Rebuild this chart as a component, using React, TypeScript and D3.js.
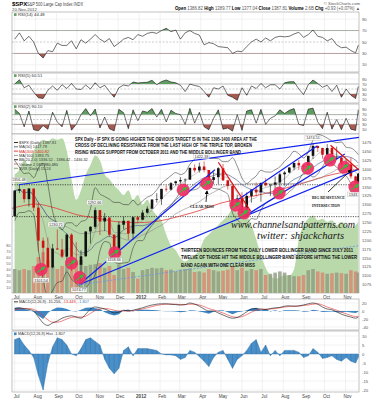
import React from "react";
import * as d3 from "d3";

// ---------- DATA ----------
const weekDates = [
  "2011-07-01","2011-07-08","2011-07-15","2011-07-22","2011-07-29","2011-08-05","2011-08-12","2011-08-19","2011-08-26","2011-09-02",
  "2011-09-09","2011-09-16","2011-09-23","2011-09-30","2011-10-07","2011-10-14","2011-10-21","2011-10-28","2011-11-04","2011-11-11",
  "2011-11-18","2011-11-25","2011-12-02","2011-12-09","2011-12-16","2011-12-23","2011-12-30","2012-01-06","2012-01-13","2012-01-20",
  "2012-01-27","2012-02-03","2012-02-10","2012-02-17","2012-02-24","2012-03-02","2012-03-09","2012-03-16","2012-03-23","2012-03-30",
  "2012-04-06","2012-04-13","2012-04-20","2012-04-27","2012-05-04","2012-05-11","2012-05-18","2012-05-25","2012-06-01","2012-06-08",
  "2012-06-15","2012-06-22","2012-06-29","2012-07-06","2012-07-13","2012-07-20","2012-07-27","2012-08-03","2012-08-10","2012-08-17",
  "2012-08-24","2012-08-31","2012-09-07","2012-09-14","2012-09-21","2012-09-28","2012-10-05","2012-10-12","2012-10-19","2012-10-26",
  "2012-11-02","2012-11-09","2012-11-16","2012-11-20"];

const closes = [1340,1344,1316,1346,1292,1199,1179,1124,1177,1174,1154,1216,1136,1131,1155,1225,1238,1285,1253,1264,
  1216,1159,1244,1255,1219,1265,1258,1278,1289,1315,1316,1345,1343,1361,1366,1370,1371,1404,1397,1408,
  1398,1370,1378,1403,1369,1353,1295,1318,1278,1325,1343,1335,1362,1355,1357,1363,1386,1391,1405,1418,
  1411,1407,1438,1466,1460,1441,1460,1429,1433,1412,1414,1380,1360,1387.81];
const highs = [1341,1356.48,1344,1347,1345,1307,1208,1208,1190,1230.71,1204,1220,1220,1195,1172,1224,1240,1292.66,1285,1277,
  1265,1216,1254,1267,1255,1267,1269,1285,1296,1315,1333,1345,1355,1364,1368,1378,1374,1405,1414,1419,
  1422.38,1398,1392,1406,1415,1370,1355,1328,1335,1335,1343,1363,1362,1375,1357,1380,1391,1395,1406,1419,
  1426,1414,1438,1474.51,1467,1461,1471,1465,1464,1434,1429,1433,1382,1389.77];
const lows = [1267,1333,1306,1295,1282,1168,1101.54,1121,1121,1174,1150,1137,1114,1131,1074.77,1154,1191,1232,1215,1226,
  1209,1158.66,1159,1231,1202,1202,1248,1258,1275,1290,1306,1300,1337,1340,1355,1360,1340,1370,1391,1391,
  1392,1357,1359,1358,1367,1343,1291,1295,1277,1266.74,1306,1324,1309,1352,1325,1345,1329,1354,1389,1397,
  1398,1397,1396,1429,1449,1430,1441,1425,1429,1403,1403,1374,1343.35,1359];
const opens = [1268,1340,1344,1316,1346,1292,1199,1179,1124,1177,1174,1154,1216,1136,1131,1155,1225,1238,1285,1253,
  1264,1216,1159,1244,1255,1219,1265,1258,1278,1289,1315,1316,1345,1343,1361,1366,1370,1371,1404,1397,
  1408,1398,1370,1378,1403,1369,1353,1295,1318,1278,1325,1343,1335,1362,1355,1357,1363,1386,1391,1405,
  1418,1411,1407,1438,1466,1460,1441,1460,1429,1433,1412,1414,1380,1360];
const volumes = [40,38,40,38,45,60,68,55,45,40,45,48,52,48,55,45,47,48,50,42,45,30,48,40,42,35,24,38,40,42,
  41,42,38,39,36,39,40,41,35,36,34,40,38,36,37,39,45,38,42,37,40,38,40,30,32,34,36,34,30,28,
  28,30,38,40,36,34,32,33,34,33,32,38,36,34];
const greenIndicator = [75,78,84,81,90,94,97,96,98,97,98,90,72,59,65,75,81,87,84,75,72,68,65,62,65,59,62,56,59,53,
  49,46,37,30,27,22,20,22,24,27,34,37,40,43,46,49,53,51,54,49,43,34,24,16,11,9,10,11,11,15,
  34,43,47,49,46,47,45,46,43,45,43,41,43,45];
const rsi14 = [55,66,52,60,50,30,22,35,33,48,44,44,52,38,54,48,55,63,55,50,56,42,48,55,58,54,63,60,65,67,
  65,70,74,68,71,55,66,70,65,62,45,49,47,42,41,40,30,34,33,42,50,55,50,57,52,58,60,59,60,64,
  67,58,63,71,60,58,52,56,45,40,41,35,31,44.48];
const rsi5 = [70,87,55,65,38,15,12,45,62,45,67,52,72,50,48,66,50,75,55,65,40,17,55,66,62,78,74,76,77,85,
  67,80,86,78,75,65,40,70,64,60,40,17,55,50,62,25,17,5,55,25,62,52,72,55,67,67,50,75,79,79,
  50,28,67,86,72,57,65,40,65,17,50,25,12,60.51];
const rsi2 = [92,75,20,85,8,3,25,10,80,40,20,88,6,30,70,95,65,93,15,60,12,3,92,78,12,90,45,85,80,95,
  60,92,40,88,75,70,30,96,35,80,20,8,55,90,10,15,2,70,5,85,90,35,92,30,55,65,90,75,88,95,
  30,25,93,97,40,12,80,10,50,8,55,10,5,90.1];
const macdLine = [6,8,6,4,0,-15,-30,-36,-30,-25,-18,-14,-12,-15,-18,-8,5,10,8,5,0,-5,-3,2,0,2,5,8,12,15,
  17,18,18,17,16,15,16,20,17,12,5,0,0,-5,-10,-15,-18,-16,-10,-2,5,6,5,4,6,8,9,12,13,12,
  13,15,18,20,17,10,5,3,-2,-8,-12,-15,-18,-15.26];
const macdSignal = [3,5,6,6,4,-2,-12,-22,-28,-28,-25,-20,-16,-15,-15,-13,-6,1,5,6,5,2,0,0,0,1,3,5,8,11,
  14,16,17,17,17,16,16,17,17,15,11,6,3,-1,-5,-10,-14,-16,-14,-9,-3,2,4,4,5,6,8,10,11,12,
  12,14,15,17,18,15,10,6,2,-3,-7,-11,-14,-13.45];
const macdHist = [8,9,5,2,-2,-12,-20,-5,4,9,8,5,0,-1,3,8,9,7,5,-3,-8,-11,-8,2,4,-1,3,3,3,2.5,
  2,0,-0.5,-0.5,-1,-3,-2,2,1,-1.5,-4,-7,-2,1,2,-3,-8,-3,-1,2,6,8,1,5,-1,2,-1,2,2,2,
  1,-2,-1,3,1,-2.5,-2,-1,-3,-4,-2,-4,-5,-1.8];
const ma200Dates = ["2011-06-27","2011-08-01","2011-09-01","2011-10-01","2011-11-01","2011-12-01","2012-01-01","2012-02-01","2012-03-01",
  "2012-04-01","2012-05-01","2012-06-01","2012-07-01","2012-08-01","2012-09-01","2012-10-01","2012-11-01","2012-11-21"];
const ma200Values = [1290,1302,1290,1272,1262,1252,1250,1255,1268,1285,1305,1318,1330,1345,1362,1380,1393,1400.82];

const priceTicks = [1475,1450,1425,1400,1375,1350,1325,1300,1275,1250,1225,1200,1175,1150,1125,1100,1075];
const volumeTicks = [10,20,30,40,50,60,70,80];
const rsiTicks = [90,70,50,30,10];
const macdTicks = [20,0,-20,-40];
const histTicks = [10,5,0,-5,-10,-15,-20];
const monthStarts = ["2011-07-01","2011-08-01","2011-09-01","2011-10-01","2011-11-01","2011-12-01","2012-01-01","2012-02-01","2012-03-01",
  "2012-04-01","2012-05-01","2012-06-01","2012-07-01","2012-08-01","2012-09-01","2012-10-01","2012-11-01"];
const monthLabels = ["Jul","Aug","Sep","Oct","Nov","Dec","2012","Feb","Mar","Apr","May","Jun","Jul","Aug","Sep","Oct","Nov"];

const bounceDates = ["2011-08-09","2011-09-23","2011-10-05","2011-11-26","2012-03-06","2012-04-10","2012-05-23","2012-06-04",
  "2012-07-26","2012-09-06","2012-10-09","2012-10-30","2012-11-15"];
const bouncePrices = [1118,1136,1095,1165,1342,1360,1299,1277,1333,1403,1426,1406,1350];

const blueLines: [string, number, string, number][] = [
  ["2011-07-07",1356.48,"2012-11-21",1490],
  ["2011-10-04",1074.77,"2012-11-21",1400.6],
  ["2011-10-04",1074.77,"2012-04-22",1399],
  ["2012-05-21",1308,"2012-09-20",1466],
  ["2012-06-04",1266.74,"2012-10-31",1443],
];
const dashedBlueLines: [string, number, string, number][] = [["2011-10-04",1074.77,"2012-11-21",1185]];
const redLines: [string, number, string, number][] = [
  ["2012-04-27",1420,"2012-06-14",1282],
  ["2012-10-10",1468,"2012-11-21",1398],
];
const levelLines = [1356.48, 1266.74];
const priceLabelDates = ["2011-07-07","2011-08-31","2011-10-27","2011-08-09","2011-10-04","2011-11-25","2012-04-02","2012-09-14","2012-11-16"];
const priceLabelValues = [1356.48,1230.71,1292.66,1101.54,1074.77,1158.66,1422.38,1474.51,1343.35];
const priceLabelAbove = [true,true,true,false,false,false,true,true,false];

const legendItems = ["$SPX (Daily) 1387.81","MA(50) 1417.79","MA(200) 1400.82","MA(100) 1393.75","BB(20,2.0) 1336.52 - 1386.42 - 1436.32","Volume 2,583,980,480","$VIX (Daily) 15.24"];
const legendColors = ["#000","#3c4f86","#e02020","#888","#000","#b0675a","#5aa05a"];

const topNote = [
  "SPX Daily - IF SPX IS GOING HIGHER THE OBVIOUS TARGET IS IN THE 1395-1400 AREA AT THE",
  "CROSS OF DECLINING RESISTANCE FROM THE LAST HIGH OF THE TRIPLE TOP, BROKEN",
  "RISING WEDGE SUPPORT FROM OCTOBER 2011 AND THE MIDDLE BOLLINGER BAND"];
const bottomNote = [
  "THIRTEEN BOUNCES FROM THE DAILY LOWER BOLLINGER BAND SINCE JULY 2011",
  "TWELVE OF THOSE HIT THE MIDDLE BOLLINGER BAND BEFORE HITTING THE LOWER",
  "BAND AGAIN WITH ONE CLEAR MISS"];

// ---------- CHART ----------
const parse = d3.timeParse("%Y-%m-%d");
const SANS = "'Liberation Sans', Arial, sans-serif";
const SERIF = "'Liberation Serif', 'Times New Roman', serif";
const L = 12, R = 359;

// condensed text: drawn at natural size then squeezed horizontally to the target width
function Squeezed(props: { x: number; y: number; w: number; size: number; text: string; family?: string; sx?: number; weight?: string; italic?: boolean; fill?: string }) {
  const sx = props.sx ?? 0.62;
  return (
    <g transform={`translate(${props.x},${props.y}) scale(${sx},1)`}>
      <text x={0} y={0} fontSize={props.size} fontWeight={props.weight ?? "bold"} fill={props.fill ?? "#111"} fontFamily={props.family ?? SANS}
        fontStyle={props.italic ? "italic" : "normal"}
        textLength={props.w / sx} lengthAdjust="spacingAndGlyphs">{props.text}</text>
    </g>
  );
}

export default function App() {
  const dates = weekDates.map((d) => parse(d) as Date);
  const x = d3.scaleTime().domain([parse("2011-06-27") as Date, parse("2012-11-21") as Date]).range([L, R]);
  const xi = (i: number) => x(dates[i]);

  const y14 = d3.scaleLinear().domain([0, 100]).range([70.6, 13.4]);
  const y5 = d3.scaleLinear().domain([0, 100]).range([101.5, 76.5]);
  const y2 = d3.scaleLinear().domain([0, 100]).range([131.6, 107.4]);
  const yP = d3.scaleLinear().domain([1075, 1475]).range([284.7, 142.7]);
  const yG = d3.scaleLinear().domain([0, 100]).range([293, 135]);
  const yV = d3.scaleLinear().domain([0, 100]).range([293, 233]);
  const yM = d3.scaleLinear().domain([0, 20]).range([311, 303]);
  const yH = d3.scaleLinear().domain([0, 10]).range([354, 336]);

  const MAIN = { top: 134, bottom: 293 };
  const MACD = { top: 299, bottom: 330 };
  const HIST = { top: 331, bottom: 392 };

  const ma = (n: number) => closes.map((_, i) => d3.mean(closes.slice(Math.max(0, i - n + 1), i + 1)) as number);
  const ma50 = ma(10);
  const ma100 = ma(20);
  const bb = closes.map((_, i) => {
    const win = d3.range(Math.max(0, i - 3), i + 1);
    const mid = d3.mean(win, (j) => closes[j]) as number;
    const vals = win.flatMap((j) => [highs[j], lows[j], closes[j]]);
    const sd = d3.deviation(vals) ?? 0;
    return { mid, up: mid + 2 * sd, lo: mid - 2 * sd };
  });

  const lineOf = (vals: number[], y: (v: number) => number, curve = d3.curveLinear) =>
    d3.line<number>().x((_, i) => xi(i)).y((v) => y(v)).curve(curve)(vals) || "";

  const rsiPanel = (id: string, vals: number[], y: d3.ScaleLinear<number, number>, top: number, bottom: number, label: string) => {
    const above = d3.area<number>().x((_, i) => xi(i)).y0(y(70)).y1((v) => y(v))(vals) || "";
    const below = d3.area<number>().x((_, i) => xi(i)).y0(y(30)).y1((v) => y(v))(vals) || "";
    return (
      <g key={id}>
        <defs>
          <clipPath id={id + "-up"}><rect x={L} y={top} width={R - L} height={y(70) - top} /></clipPath>
          <clipPath id={id + "-dn"}><rect x={L} y={y(30)} width={R - L} height={bottom - y(30)} /></clipPath>
          <clipPath id={id + "-all"}><rect x={L} y={top} width={R - L} height={bottom - top} /></clipPath>
        </defs>
        <rect x={L} y={top} width={R - L} height={bottom - top} fill="#fff" stroke="#9a9a9a" strokeWidth={0.6} />
        {monthStarts.map((m) => (
          <line key={m} x1={x(parse(m) as Date)} x2={x(parse(m) as Date)} y1={top} y2={bottom} stroke="#e2e2e2" strokeWidth={0.5} />
        ))}
        {rsiTicks.map((t) => (
          <line key={t} x1={L} x2={R} y1={y(t)} y2={y(t)}
            stroke={t === 70 || t === 30 ? "#8c8c8c" : t === 50 ? "#9a9a9a" : "#e4e4e4"}
            strokeWidth={t === 70 || t === 30 ? 0.6 : 0.5} strokeDasharray={t === 50 ? "2,1.5" : undefined} />
        ))}
        <path d={above} fill="#5f9d62" clipPath={`url(#${id}-up)`} />
        <path d={below} fill="#a45a50" clipPath={`url(#${id}-dn)`} />
        <path d={lineOf(vals, y)} fill="none" stroke="#111" strokeWidth={0.6} clipPath={`url(#${id}-all)`} />
        {rsiTicks.map((t) => (
          <text key={t} x={R + 3} y={y(t) + 1.5} fontSize={4.2} fill="#555" fontFamily={SANS}>{t}</text>
        ))}
        <rect x={L + 2} y={top + 1.3} width={2.6} height={2.6} fill="#5f9d62" />
        <text x={L + 6} y={top + 4} fontSize={4.3} fill="#333" fontFamily={SANS}>{label}</text>
      </g>
    );
  };

  const lineSeg = (ln: [string, number, string, number], k: string, color: string, w: number, dash?: string) => (
    <line key={k} x1={x(parse(ln[0]) as Date)} y1={yP(ln[1])} x2={x(parse(ln[2]) as Date)} y2={yP(ln[3])}
      stroke={color} strokeWidth={w} strokeDasharray={dash} />
  );

  const greenArea = d3.area<number>().x((_, i) => xi(i)).y0(MAIN.bottom).y1((v) => yG(v)).curve(d3.curveMonotoneX)(greenIndicator) || "";
  const ma200Path = d3.line<number>().x((_, i) => x(parse(ma200Dates[i]) as Date)).y((v) => yP(v)).curve(d3.curveMonotoneX)(ma200Values) || "";

  const macdZero = yM(0);
  const histAreaM = d3.area<number>().x((_, i) => xi(i)).y0(macdZero).y1((v) => yM(v))(macdHist) || "";
  const histArea = d3.area<number>().x((_, i) => xi(i)).y0(yH(0)).y1((v) => yH(v))(macdHist) || "";

  const monthAxis = (yBase: number, k: string) => (
    <g key={k}>
      {monthStarts.map((m, i) => (
        <text key={m} x={x(parse(m) as Date) + 2} y={yBase} fontSize={4.6} textAnchor="middle" fill="#444"
          fontWeight={monthLabels[i] === "2012" ? "bold" : "normal"} fontFamily={SANS}>{monthLabels[i]}</text>
      ))}
    </g>
  );

  const vGrid = (top: number, bottom: number, k: string) => (
    <g key={k}>
      {monthStarts.map((m) => (
        <line key={m} x1={x(parse(m) as Date)} x2={x(parse(m) as Date)} y1={top} y2={bottom} stroke="#e2e2e2" strokeWidth={0.5} />
      ))}
    </g>
  );

  return (
    <svg width={377} height={400} viewBox="0 0 377 400" style={{ position: "absolute", left: 0, top: 0, background: "#fff" }}>
      <defs>
        <clipPath id="main-clip"><rect x={L} y={MAIN.top} width={R - L} height={MAIN.bottom - MAIN.top} /></clipPath>
        <clipPath id="macd-clip"><rect x={L} y={MACD.top} width={R - L} height={MACD.bottom - MACD.top} /></clipPath>
        <clipPath id="hist-clip"><rect x={L} y={HIST.top} width={R - L} height={HIST.bottom - HIST.top} /></clipPath>
        <marker id="garrow" viewBox="0 0 10 10" refX="8" refY="5" markerWidth="4" markerHeight="4" orient="auto">
          <path d="M0,0 L10,5 L0,10 z" fill="#2fc03a" />
        </marker>
        <marker id="karrow" viewBox="0 0 10 10" refX="8" refY="5" markerWidth="5" markerHeight="5" orient="auto">
          <path d="M0,0 L10,5 L0,10 z" fill="#000" />
        </marker>
      </defs>
      <rect x={0} y={0} width={377} height={400} fill="#fff" />

      {/* header */}
      <text x={12} y={6.3} fontSize={6} fontWeight="bold" fill="#000" fontFamily={SANS}>$SPX</text>
      <text x={27} y={6.3} fontSize={4.6} fill="#444" fontFamily={SANS} textLength={56} lengthAdjust="spacingAndGlyphs">S&amp;P 500 Large Cap Index INDX</text>
      <text x={12} y={11} fontSize={4.3} fill="#444" fontFamily={SANS}>20-Nov-2012</text>
      <text x={360} y={4.6} fontSize={4.2} fill="#555" textAnchor="end" fontFamily={SANS}>© StockCharts.com</text>
      <text x={360} y={9.6} fontSize={4.5} fill="#555" textAnchor="end" fontFamily={SANS} textLength={185} lengthAdjust="spacingAndGlyphs">
        <tspan fontWeight="bold" fill="#000">Open</tspan> 1386.82 <tspan fontWeight="bold" fill="#000">High</tspan> 1389.77 <tspan fontWeight="bold" fill="#000">Low</tspan> 1377.04 <tspan fontWeight="bold" fill="#000">Close</tspan> 1387.81 <tspan fontWeight="bold" fill="#000">Volume</tspan> 2.6B <tspan fontWeight="bold" fill="#000">Chg</tspan> +0.93 (+0.07%) ▲
      </text>

      {rsiPanel("r14", rsi14, y14, 12, 72, "RSI(14) 44.48")}
      {rsiPanel("r5", rsi5, y5, 73, 103, "RSI(5) 60.51")}
      {rsiPanel("r2", rsi2, y2, 104, 134, "RSI(2) 90.10")}

      {/* main price panel */}
      <rect x={L} y={MAIN.top} width={R - L} height={MAIN.bottom - MAIN.top} fill="#fff" stroke="#9a9a9a" strokeWidth={0.6} />
      {vGrid(MAIN.top, MAIN.bottom, "mg")}
      {priceTicks.map((t) => (
        <line key={t} x1={L} x2={R} y1={yP(t)} y2={yP(t)} stroke="#e6e6e6" strokeWidth={0.5} />
      ))}
      <g clipPath="url(#main-clip)">
        <path d={greenArea} fill="#b9d9aa" />
        {volumes.map((v, i) => (
          <rect key={i} x={xi(i) - 1.8} y={yV(v)} width={3.6} height={MAIN.bottom - yV(v)}
            fill={closes[i] >= opens[i] ? "#8f9a80" : "#d98472"} opacity={0.8} />
        ))}
        {levelLines.map((p) => (
          <line key={p} x1={L} x2={R} y1={yP(p)} y2={yP(p)} stroke="#111" strokeWidth={0.7} strokeDasharray="1.2,1.2" />
        ))}
        <path d={ma200Path} fill="none" stroke="#e23a3a" strokeWidth={0.8} />
        <path d={lineOf(ma100, yP, d3.curveMonotoneX)} fill="none" stroke="#8a8a8a" strokeWidth={0.6} />
        <path d={lineOf(ma50, yP, d3.curveMonotoneX)} fill="none" stroke="#3c4f86" strokeWidth={0.6} />
        <path d={lineOf(bb.map((b) => b.up), yP, d3.curveMonotoneX)} fill="none" stroke="#222" strokeWidth={0.5} />
        <path d={lineOf(bb.map((b) => b.lo), yP, d3.curveMonotoneX)} fill="none" stroke="#222" strokeWidth={0.5} />
        <path d={lineOf(bb.map((b) => b.mid), yP, d3.curveMonotoneX)} fill="none" stroke="#7a7a7a" strokeWidth={0.4} />
        {closes.map((c, i) => {
          const up = c >= opens[i];
          const col = up ? "#111" : "#d01010";
          const top = yP(Math.max(c, opens[i]));
          const bot = yP(Math.min(c, opens[i]));
          return (
            <g key={i}>
              <line x1={xi(i)} x2={xi(i)} y1={yP(highs[i])} y2={yP(lows[i])} stroke={col} strokeWidth={0.6} />
              <rect x={xi(i) - 1.3} y={top} width={2.6} height={Math.max(0.6, bot - top)} fill={col} />
            </g>
          );
        })}
        {blueLines.map((ln, k) => lineSeg(ln, "b" + k, "#1020f0", 1.2))}
        {dashedBlueLines.map((ln, k) => lineSeg(ln, "db" + k, "#6f8fe8", 0.8, "2,1.5"))}
        {redLines.map((ln, k) => lineSeg(ln, "r" + k, "#e31010", 1.2))}
        {bounceDates.map((d, k) => {
          const cx = x(parse(d) as Date);
          const cy = yP(bouncePrices[k]);
          return (
            <g key={d}>
              <circle cx={cx} cy={cy} r={6.5} fill="#ef2f63" opacity={0.92} />
              <line x1={cx - 4} y1={cy + 3} x2={cx + 3.5} y2={cy - 2.5} stroke="#2fc03a" strokeWidth={1.1} markerEnd="url(#garrow)" />
            </g>
          );
        })}
        {priceLabelDates.map((d, k) => {
          const cx = x(parse(d) as Date);
          const cy = yP(priceLabelValues[k]) + (priceLabelAbove[k] ? -5 : 5);
          return (
            <g key={d}>
              <rect x={cx - 8} y={cy - 2.4} width={16} height={4.8} fill="#fff" stroke="#999" strokeWidth={0.3} opacity={0.9} />
              <text x={cx} y={cy + 1.4} fontSize={3.8} textAnchor="middle" fill="#333" fontFamily={SANS}>{priceLabelValues[k].toFixed(2)}</text>
            </g>
          );
        })}
      </g>

      {/* legend */}
      {legendItems.map((t, k) => (
        <g key={t}>
          <line x1={14} x2={18} y1={142.5 + k * 4.3} y2={142.5 + k * 4.3} stroke={legendColors[k]} strokeWidth={0.8} />
          <text x={19} y={144 + k * 4.3} fontSize={3.9} fill={k === 2 ? "#e02020" : "#333"} fontFamily={SANS}>{t}</text>
        </g>
      ))}

      {/* annotations */}
      {topNote.map((t, k) => (
        <Squeezed key={t} x={75} y={140.5 + k * 6.5} w={[182, 177, 166][k]} size={5} text={t} />
      ))}
      {bottomNote.map((t, k) => (
        <Squeezed key={t} x={181} y={252 + k * 7.3} w={[172, 176, 74][k]} size={5} text={t} />
      ))}
      <Squeezed x={312} y={199} w={33} size={5} text="BIG RESISTANCE" family={SERIF} sx={0.75} />
      <Squeezed x={312} y={207} w={28} size={5} text="INTERSECTION" family={SERIF} sx={0.75} />
      <line x1={328} y1={192} x2={351} y2={170} stroke="#000" strokeWidth={0.8} markerEnd="url(#karrow)" />
      <Squeezed x={190} y={208} w={24} size={5} text="CLEAR MISS" family={SERIF} sx={0.75} />
      <line x1={206} y1={202} x2={207} y2={191} stroke="#000" strokeWidth={0.8} markerEnd="url(#karrow)" />
      <Squeezed x={231} y={228} w={124} size={9.5} text="www.channelsandpatterns.com" family={SERIF} sx={0.85} weight="normal" italic fill="#151515" />
      <Squeezed x={257} y={238.5} w={87} size={9.5} text="twitter: shjackcharts" family={SERIF} sx={0.85} weight="normal" italic fill="#151515" />

      {/* price axis labels */}
      {priceTicks.map((t) => (
        <text key={t} x={R + 3} y={yP(t) + 1.5} fontSize={4.2} fill="#555" fontFamily={SANS}>{t}</text>
      ))}
      {volumeTicks.map((t) => (
        <text key={t} x={L - 1.5} y={yV(t) + 1.5} fontSize={3.8} fill="#666" textAnchor="end" fontFamily={SANS}>{t}</text>
      ))}
      {monthAxis(298.5, "ax1")}

      {/* MACD panel */}
      <rect x={L} y={MACD.top} width={R - L} height={MACD.bottom - MACD.top} fill="#fff" stroke="#9a9a9a" strokeWidth={0.6} />
      {vGrid(MACD.top, MACD.bottom, "macg")}
      {macdTicks.map((t) => (
        <line key={t} x1={L} x2={R} y1={yM(t)} y2={yM(t)} stroke="#e6e6e6" strokeWidth={0.5} />
      ))}
      <g clipPath="url(#macd-clip)">
        <path d={histAreaM} fill="#3d86c4" />
        <path d={lineOf(macdSignal, yM, d3.curveMonotoneX)} fill="none" stroke="#e03030" strokeWidth={0.6} />
        <path d={lineOf(macdLine, yM, d3.curveMonotoneX)} fill="none" stroke="#111" strokeWidth={0.6} />
      </g>
      {macdTicks.map((t) => (
        <text key={t} x={R + 3} y={yM(t) + 1.5} fontSize={4.2} fill="#555" fontFamily={SANS}>{t}</text>
      ))}
      <line x1={14} x2={18} y1={301.8} y2={301.8} stroke="#111" strokeWidth={0.8} />
      <text x={19} y={303.3} fontSize={3.9} fill="#333" fontFamily={SANS}>
        MACD(12,26,9) -15.256, <tspan fill="#e03030">-13.449,</tspan> <tspan fill="#3d86c4">-1.807</tspan>
      </text>

      {/* MACD hist panel */}
      <rect x={L} y={HIST.top} width={R - L} height={HIST.bottom - HIST.top} fill="#fff" stroke="#9a9a9a" strokeWidth={0.6} />
      {vGrid(HIST.top, HIST.bottom, "hg")}
      {histTicks.map((t) => (
        <line key={t} x1={L} x2={R} y1={yH(t)} y2={yH(t)} stroke="#e6e6e6" strokeWidth={0.5} />
      ))}
      <g clipPath="url(#hist-clip)">
        <path d={histArea} fill="#4a8fc8" stroke="#2d6fa6" strokeWidth={0.4} />
        {macdHist.map((v, i) => (
          <line key={i} x1={xi(i)} x2={xi(i)} y1={yH(0)} y2={yH(v)} stroke="#2d6fa6" strokeWidth={0.4} />
        ))}
      </g>
      {histTicks.map((t) => (
        <text key={t} x={R + 3} y={yH(t) + 1.5} fontSize={4.2} fill="#555" fontFamily={SANS}>{t}</text>
      ))}
      <rect x={L + 2} y={HIST.top + 1.5} width={2.6} height={2.6} fill="#3d86c4" />
      <text x={L + 6} y={HIST.top + 4.2} fontSize={3.9} fill="#333" fontFamily={SANS}>MACD(12,26,9) Hist -1.807</text>
      {monthAxis(398, "ax2")}
    </svg>
  );
}
